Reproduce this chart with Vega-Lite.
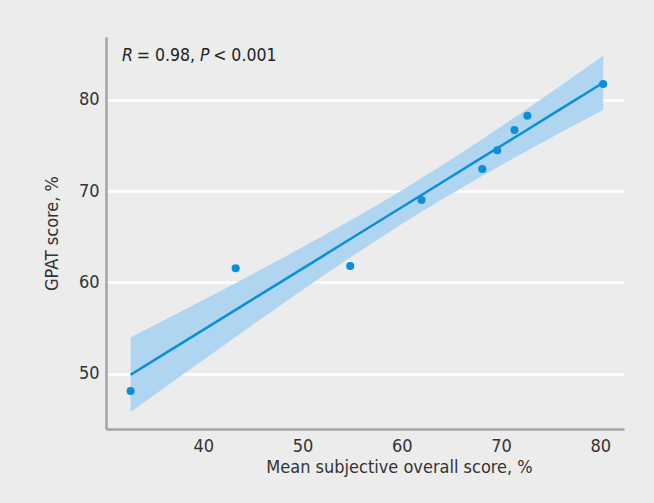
{
  "$schema": "https://vega.github.io/schema/vega-lite/v6.json",
  "width": 518,
  "height": 392,
  "autosize": {"type": "none"},
  "padding": {"left": 106, "top": 37, "right": 30, "bottom": 74},
  "background": "#ebeceb",
  "config": {
    "view": {"stroke": null},
    "font": "DejaVu Sans Condensed",
    "axis": {
      "domainColor": "#a3a3a3",
      "domainWidth": 2.5,
      "ticks": false,
      "labelFont": "DejaVu Sans Condensed",
      "labelFontSize": 18,
      "labelColor": "#333333",
      "titleFont": "DejaVu Sans Condensed",
      "titleFontSize": 18,
      "titleFontWeight": "normal",
      "titleColor": "#333333"
    }
  },
  "datasets": {
    "points": [
      {"subjective": 32.68, "gpat": 48.1},
      {"subjective": 43.27, "gpat": 61.54},
      {"subjective": 54.81, "gpat": 61.79},
      {"subjective": 62.0, "gpat": 69.02},
      {"subjective": 68.12, "gpat": 72.41},
      {"subjective": 69.63, "gpat": 74.46},
      {"subjective": 71.36, "gpat": 76.68},
      {"subjective": 72.66, "gpat": 78.25},
      {"subjective": 80.3, "gpat": 81.72}
    ],
    "band": [
      {"subjective": 32.68, "fit": 49.88, "lo": 45.8, "hi": 53.95},
      {"subjective": 36, "fit": 52.11, "lo": 48.4, "hi": 55.81},
      {"subjective": 40, "fit": 54.79, "lo": 51.51, "hi": 58.07},
      {"subjective": 44, "fit": 57.48, "lo": 54.6, "hi": 60.35},
      {"subjective": 48, "fit": 60.16, "lo": 57.66, "hi": 62.67},
      {"subjective": 52, "fit": 62.85, "lo": 60.66, "hi": 65.04},
      {"subjective": 56, "fit": 65.54, "lo": 63.58, "hi": 67.5},
      {"subjective": 60, "fit": 68.22, "lo": 66.39, "hi": 70.06},
      {"subjective": 64, "fit": 70.91, "lo": 69.06, "hi": 72.76},
      {"subjective": 68, "fit": 73.6, "lo": 71.6, "hi": 75.59},
      {"subjective": 72, "fit": 76.28, "lo": 74.04, "hi": 78.53},
      {"subjective": 76, "fit": 78.97, "lo": 76.4, "hi": 81.54},
      {"subjective": 80.3, "fit": 81.86, "lo": 78.88, "hi": 84.83}
    ],
    "italic": [
      {"subjective": 31.81, "gpat": 84.79, "label": "R"},
      {"subjective": 39.67, "gpat": 84.79, "label": "P"}
    ],
    "plain": [
      {"subjective": 33.3, "gpat": 84.79, "label": "= 0.98,"},
      {"subjective": 41.0, "gpat": 84.79, "label": "< 0.001"}
    ]
  },
  "encoding": {
    "x": {
      "field": "subjective",
      "type": "quantitative",
      "scale": {"domain": [30.2, 82.4], "nice": false, "zero": false},
      "axis": {"values": [40, 50, 60, 70, 80], "grid": false, "labelPadding": 8, "title": "Mean subjective overall score, %", "titlePadding": 3, "titleX": 293}
    }
  },
  "layer": [
    {
      "data": {"name": "band"},
      "mark": {"type": "area", "color": "#afd5f1", "opacity": 1},
      "encoding": {
        "y": {
          "field": "lo",
          "type": "quantitative",
          "scale": {"domain": [43.94, 86.87], "nice": false, "zero": false},
          "axis": {"values": [50, 60, 70, 80], "grid": true, "gridColor": "#ffffff", "gridWidth": 2.5, "labelPadding": 7, "title": "GPAT score, %", "titlePadding": 17}
        },
        "y2": {"field": "hi"}
      }
    },
    {
      "data": {"name": "band"},
      "mark": {"type": "line", "color": "#0a8fd8", "strokeWidth": 2.5},
      "encoding": {"y": {"field": "fit", "type": "quantitative"}}
    },
    {
      "data": {"name": "points"},
      "mark": {"type": "circle", "color": "#0a8fd8", "opacity": 1, "size": 65},
      "encoding": {"y": {"field": "gpat", "type": "quantitative"}}
    },
    {
      "data": {"name": "italic"},
      "mark": {"type": "text", "align": "left", "baseline": "middle", "fontStyle": "italic", "fontSize": 17.5, "color": "#222222", "font": "DejaVu Sans Condensed"},
      "encoding": {"y": {"field": "gpat", "type": "quantitative"}, "text": {"field": "label"}}
    },
    {
      "data": {"name": "plain"},
      "mark": {"type": "text", "align": "left", "baseline": "middle", "fontSize": 17.5, "color": "#222222", "font": "DejaVu Sans Condensed"},
      "encoding": {"y": {"field": "gpat", "type": "quantitative"}, "text": {"field": "label"}}
    }
  ]
}
